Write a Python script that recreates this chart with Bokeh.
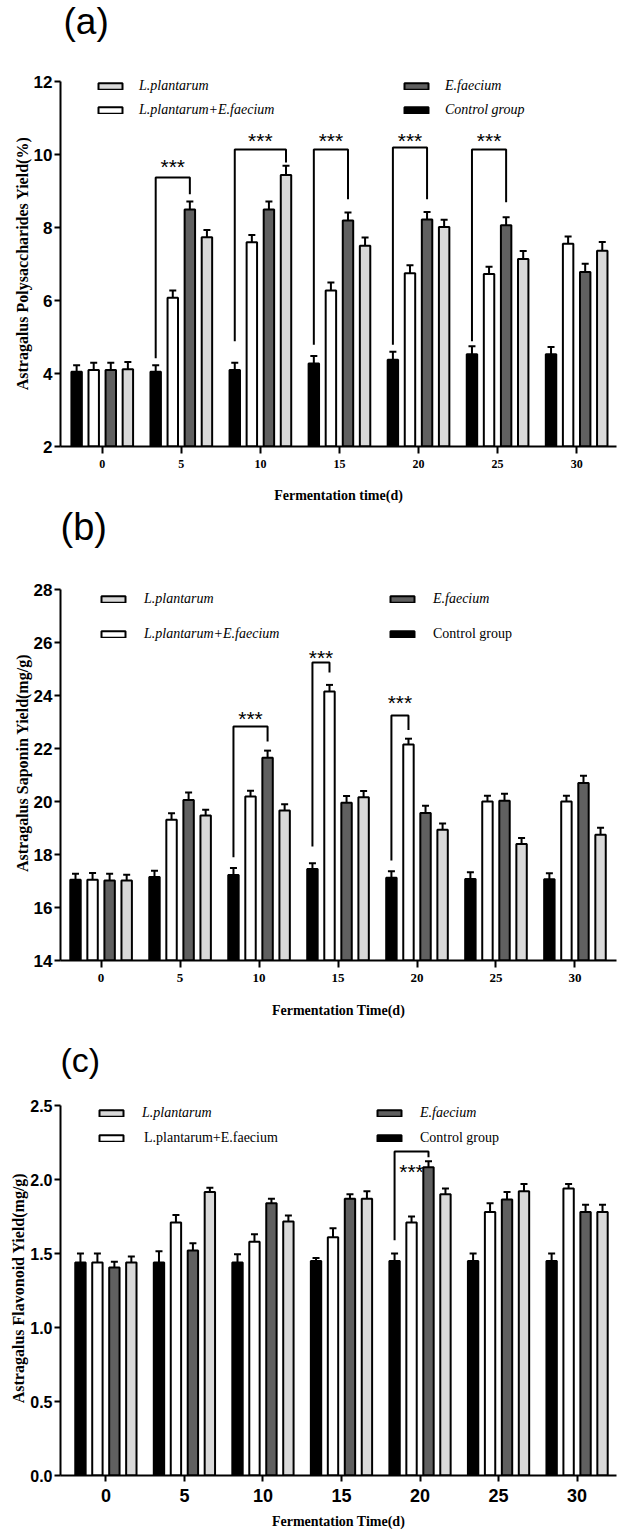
from bokeh.plotting import figure
from bokeh.layouts import column
from bokeh.models import (ColumnDataSource, Range1d, FixedTicker, Whisker, TeeHead,
                          Legend, LegendItem, Label, NumeralTickFormatter)
from bokeh.core.properties import value
from bokeh.embed import file_html
from bokeh.resources import INLINE

# ---------------- data ----------------
days = [0, 5, 10, 15, 20, 25, 30]

# (a) Astragalus polysaccharides yield (%)
poly_control = [4.05, 4.05, 4.10, 4.28, 4.38, 4.53, 4.53]
poly_combo = [4.10, 6.08, 7.60, 6.28, 6.75, 6.73, 7.56]
poly_efae = [4.10, 8.50, 8.50, 8.20, 8.23, 8.07, 6.79]
poly_lpl = [4.12, 7.74, 9.45, 7.51, 8.02, 7.14, 7.37]
poly_control_err = [0.18, 0.18, 0.20, 0.20, 0.22, 0.22, 0.20]
poly_combo_err = [0.20, 0.20, 0.20, 0.22, 0.22, 0.20, 0.20]
poly_efae_err = [0.20, 0.22, 0.22, 0.22, 0.20, 0.22, 0.22]
poly_lpl_err = [0.20, 0.20, 0.25, 0.22, 0.20, 0.22, 0.24]

# (b) Astragalus saponin yield (mg/g)
sap_control = [17.05, 17.15, 17.23, 17.45, 17.12, 17.08, 17.07]
sap_combo = [17.05, 19.31, 20.19, 24.15, 22.15, 20.00, 20.00]
sap_efae = [17.02, 20.06, 21.65, 19.95, 19.57, 20.03, 20.70]
sap_lpl = [17.02, 19.47, 19.66, 20.16, 18.93, 18.40, 18.75]
sap_control_err = [0.22, 0.24, 0.26, 0.22, 0.25, 0.25, 0.22]
sap_combo_err = [0.25, 0.25, 0.22, 0.25, 0.22, 0.22, 0.22]
sap_efae_err = [0.25, 0.28, 0.27, 0.26, 0.27, 0.26, 0.27]
sap_lpl_err = [0.22, 0.22, 0.24, 0.24, 0.24, 0.22, 0.26]

# (c) Astragalus flavonoid yield (mg/g)
flav_control = [1.44, 1.44, 1.44, 1.45, 1.45, 1.45, 1.45]
flav_combo = [1.44, 1.71, 1.58, 1.61, 1.71, 1.78, 1.94]
flav_efae = [1.405, 1.52, 1.84, 1.87, 2.083, 1.865, 1.78]
flav_lpl = [1.44, 1.915, 1.716, 1.87, 1.90, 1.92, 1.78]
flav_control_err = [0.06, 0.075, 0.055, 0.02, 0.05, 0.05, 0.05]
flav_combo_err = [0.06, 0.05, 0.05, 0.06, 0.04, 0.06, 0.03]
flav_efae_err = [0.04, 0.05, 0.03, 0.03, 0.04, 0.05, 0.05]
flav_lpl_err = [0.04, 0.03, 0.04, 0.05, 0.04, 0.05, 0.05]

# significance brackets: (day index, from series, to series, top, left foot, right foot, star centre)
poly_brackets = [
    (1, "control", "efae", 9.38, 4.42, 8.92, 9.82),
    (2, "control", "lpl", 10.15, 4.89, 9.79, 10.53),
    (3, "control", "efae", 10.15, 4.79, 8.78, 10.53),
    (4, "control", "efae", 10.20, 4.79, 8.78, 10.53),
    (5, "control", "efae", 10.15, 4.89, 8.70, 10.53),
]
sap_brackets = [
    (2, "control", "efae", 22.83, 17.90, 22.26, 23.32),
    (3, "control", "combo", 25.25, 18.30, 24.87, 25.62),
    (4, "control", "combo", 23.25, 17.77, 22.70, 23.92),
]
flav_brackets = [
    (4, "control", "efae", 2.19, 1.59, 2.15, 2.09),
]

labels = {
    "lpl": "L.plantarum",
    "efae": "E.faecium",
    "combo": "L.plantarum+E.faecium",
    "control": "Control group",
}

# ---------------- style ----------------
ORDER = ["control", "combo", "efae", "lpl"]
OFFS = {"control": -1.62, "combo": -0.54, "efae": 0.54, "lpl": 1.62}
COLORS = {"control": "#000000", "combo": "#ffffff", "efae": "#606060", "lpl": "#d9d9d9"}
BAR_W = 0.66
SANS = "Liberation Sans"
SERIF = "Liberation Serif"
NBSP = "\u00a0"


def make_panel(cfg):
    y0, y1 = cfg["yrange"]
    frame_h = cfg["height"] - cfg["mb_bottom"]
    # the frame reaches the top of the figure; the y axis itself is bounded to [y0, y1]
    y_top = y0 + (y1 - y0) * frame_h / cfg["axis_px"]
    x_start, x_end = cfg["xrange"]
    p = figure(width=624, height=cfg["height"],
               x_range=Range1d(x_start, x_end), y_range=Range1d(y0, y_top),
               output_backend="svg", toolbar_location=None,
               min_border_left=cfg["mb_left"], min_border_right=cfg["mb_right"],
               min_border_top=0, min_border_bottom=cfg["mb_bottom"])
    p.outline_line_color = None
    p.xgrid.visible = False
    p.ygrid.visible = False
    p.background_fill_color = "white"
    p.border_fill_color = "white"

    renderers = {}
    for key in ORDER:
        vals = cfg["means"][key]
        errs = cfg["errs"][key]
        src = ColumnDataSource(dict(
            x=[d + OFFS[key] for d in days],
            top=vals,
            upper=[v + e for v, e in zip(vals, errs)],
        ))
        r = p.vbar(x="x", top="top", bottom=y0, width=BAR_W, source=src,
                   fill_color=COLORS[key], line_color="black", line_width=2)
        renderers[key] = r
        p.add_layout(Whisker(source=src, base="x", upper="upper", lower="top",
                             dimension="height", line_width=2, line_color="black",
                             upper_head=TeeHead(size=7, line_width=2, line_color="black"),
                             lower_head=None))

    # brackets and stars
    xs, ys, sx, sy = [], [], [], []
    for (gi, a, b, top, lf, rf, st) in cfg["brackets"]:
        xa = days[gi] + OFFS[a]
        xb = days[gi] + OFFS[b]
        xs.append([xa, xa, xb, xb])
        ys.append([lf, top, top, rf])
        sx.append((xa + xb) / 2)
        sy.append(st)
    p.multi_line(xs=xs, ys=ys, line_color="black", line_width=2)
    p.text(x=sx, y=sy, text=["***"] * len(sx), text_font=value(SANS),
           text_font_size=value("21px"), text_align="center",
           text_baseline="middle", y_offset=5, text_color="black")

    # axes
    for ax in (p.xaxis[0], p.yaxis[0]):
        ax.axis_line_width = 2
        ax.axis_line_color = "black"
        ax.major_tick_line_width = 2
        ax.major_tick_line_color = "black"
        ax.major_tick_in = 0
        ax.minor_tick_line_color = None
        ax.major_label_text_color = "black"
        ax.axis_label_text_color = "black"
    xa_ = p.xaxis[0]
    xa_.ticker = FixedTicker(ticks=days)
    xa_.major_tick_out = cfg["xtick_out"]
    xa_.major_label_standoff = cfg["xlabel_standoff"]
    xa_.major_label_text_font = cfg["xtick_font"]
    xa_.major_label_text_font_style = "bold"
    xa_.major_label_text_font_size = cfg["xtick_size"]
    xa_.axis_label = cfg["xlabel"]
    xa_.axis_label_text_font = SERIF
    xa_.axis_label_text_font_style = "bold"
    xa_.axis_label_text_font_size = "14px"
    xa_.axis_label_standoff = cfg["xaxis_label_standoff"]

    ya_ = p.yaxis[0]
    ya_.bounds = (y0, y1)
    ya_.ticker = FixedTicker(ticks=cfg["yticks"])
    if cfg.get("yfmt"):
        ya_.formatter = NumeralTickFormatter(format=cfg["yfmt"])
    ya_.major_tick_out = 6
    ya_.major_label_standoff = 2
    ya_.major_label_text_font = SANS
    ya_.major_label_text_font_style = "bold"
    ya_.major_label_text_font_size = cfg["ytick_size"]
    # the label is centred on the whole frame; trailing no-break spaces push it down
    # so that it sits beside the bounded axis, as in the reference
    ya_.axis_label = cfg["ylabel"] + NBSP * cfg["ylabel_pad"]
    ya_.axis_label_text_font = SERIF
    ya_.axis_label_text_font_style = "bold"
    ya_.axis_label_text_font_size = "16px"
    ya_.axis_label_standoff = 0

    # legend: one entry per box so that positions and font styles match
    for key, style, (lx, ly), standoff in cfg["legend"]:
        leg = Legend(items=[LegendItem(label=labels[key], renderers=[renderers[key]])],
                     location=(lx, ly), orientation="vertical",
                     padding=0, margin=0, spacing=0,
                     border_line_color=None, background_fill_alpha=0,
                     glyph_width=30, glyph_height=8, label_height=8,
                     label_standoff=standoff,
                     label_text_font=SERIF, label_text_font_style=style,
                     label_text_font_size="14px", label_text_color="black")
        p.add_layout(leg)

    # panel tag, in the top-left corner of the figure
    p.add_layout(Label(x=x_start, y=y_top, x_offset=cfg["tag_offset"], y_offset=0,
                       text=cfg["tag"], text_font=SANS, text_font_size=cfg["tag_size"],
                       text_baseline="top", text_align="left", text_color="black"))
    return p


pa = make_panel(dict(
    tag="(a)", tag_size="37px", tag_offset=3,
    height=505, mb_bottom=56, mb_left=57, mb_right=8, axis_px=367,
    xrange=(-2.64, 32.52), yrange=(2, 12), yticks=[2, 4, 6, 8, 10, 12], yfmt=None,
    ytick_size="17px",
    means={"control": poly_control, "combo": poly_combo, "efae": poly_efae, "lpl": poly_lpl},
    errs={"control": poly_control_err, "combo": poly_combo_err, "efae": poly_efae_err, "lpl": poly_lpl_err},
    brackets=poly_brackets,
    xlabel="Fermentation time(d)", ylabel="Astragalus  Polysaccharides Yield(%)", ylabel_pad=19,
    xtick_font=SERIF, xtick_size="12px", xtick_out=7, xlabel_standoff=6, xaxis_label_standoff=17,
    legend=[("lpl", "italic", (35, 352), 14), ("efae", "italic", (341, 352), 14),
            ("combo", "italic", (35, 328), 14), ("control", "italic", (341, 328), 14)],
))

pb = make_panel(dict(
    tag="(b)", tag_size="38px", tag_offset=0,
    height=535, mb_bottom=80, mb_left=60, mb_right=2, axis_px=371,
    xrange=(-2.57, 32.63), yrange=(14, 28), yticks=[14, 16, 18, 20, 22, 24, 26, 28], yfmt=None,
    ytick_size="17px",
    means={"control": sap_control, "combo": sap_combo, "efae": sap_efae, "lpl": sap_lpl},
    errs={"control": sap_control_err, "combo": sap_combo_err, "efae": sap_efae_err, "lpl": sap_lpl_err},
    brackets=sap_brackets,
    xlabel="Fermentation Time(d)", ylabel="Astragalus Saponin Yield(mg/g)", ylabel_pad=15,
    xtick_font=SERIF, xtick_size="13px", xtick_out=7, xlabel_standoff=6, xaxis_label_standoff=18,
    legend=[("lpl", "italic", (38, 353), 16), ("efae", "italic", (327, 353), 16),
            ("combo", "italic", (38, 318), 16), ("control", "normal", (327, 318), 16)],
))

pc = make_panel(dict(
    tag="(c)", tag_size="34px", tag_offset=0,
    height=492, mb_bottom=57, mb_left=60, mb_right=0, axis_px=370,
    xrange=(-2.89, 32.51), yrange=(0, 2.5), yticks=[0, 0.5, 1.0, 1.5, 2.0, 2.5], yfmt="0.0",
    ytick_size="16px",
    means={"control": flav_control, "combo": flav_combo, "efae": flav_efae, "lpl": flav_lpl},
    errs={"control": flav_control_err, "combo": flav_combo_err, "efae": flav_efae_err, "lpl": flav_lpl_err},
    brackets=flav_brackets,
    xlabel="Fermentation Time(d)", ylabel="Astragalus Flavonoid Yield(mg/g)", ylabel_pad=15,
    xtick_font=SANS, xtick_size="18px", xtick_out=6, xlabel_standoff=7, xaxis_label_standoff=9,
    legend=[("lpl", "italic", (36, 354), 16), ("efae", "italic", (314, 354), 16),
            ("combo", "normal", (36, 329), 18), ("control", "normal", (314, 329), 16)],
))

layout = column(pa, pb, pc, spacing=0)
open("out.html", "w").write(file_html(layout, INLINE))
